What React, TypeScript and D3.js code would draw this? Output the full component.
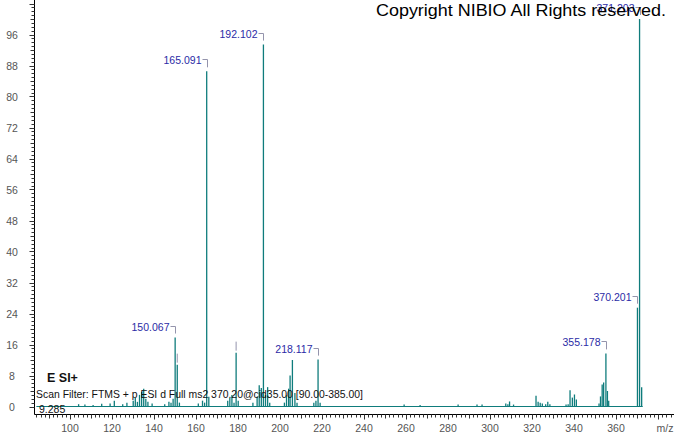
import React from "react";
import * as d3 from "d3";

const peakMz: number[] = [
  104.1, 107.1, 111.0, 115.1, 119.1, 121.1, 125.1, 127.1, 130.1, 131.1, 132.1, 133.1, 134.1, 135.1, 136.1, 137.1, 139.1,
  145.1, 147.1, 148.1, 149.1, 150.067, 151.07, 152.1, 161.1, 163.1, 164.1, 165.091, 166.1,
  175.1, 176.1, 177.1, 178.1, 179.1, 180.1, 187.1, 189.1, 190.1, 191.1, 192.102, 193.1, 194.1, 195.1,
  202.1, 203.1, 204.1, 204.8, 205.9, 207.1, 208.1, 216.1, 217.1, 218.117, 219.1,
  259.1, 266.7, 284.8, 293.8, 296.2, 307.5, 308.5, 309.3, 311.2,
  321.9, 322.9, 323.9, 324.9, 326.5, 327.5, 328.5, 336.2, 337.2, 338.1, 339.2, 340.2, 341.1,
  351.9, 352.6, 353.4, 354.1, 355.178, 355.9, 356.5, 370.201, 371.203, 372.2,
];
const peakIntensity: number[] = [
  0.6, 0.5, 0.4, 0.7, 0.8, 1.5, 0.6, 1.0, 1.5, 2.2, 1.2, 3.0, 3.8, 4.6, 2.0, 1.2, 0.8,
  0.6, 1.2, 1.0, 2.0, 17.8, 10.8, 1.0, 0.8, 1.5, 1.0, 86.5, 2.5,
  1.5, 2.2, 3.0, 1.0, 13.9, 1.5, 1.0, 2.5, 5.5, 4.8, 93.4, 3.0, 5.0, 1.0,
  1.0, 3.0, 4.6, 8.0, 12.0, 3.5, 1.0, 1.0, 1.5, 12.1, 1.0,
  0.5, 0.4, 0.5, 0.5, 0.5, 0.8, 0.6, 1.3, 0.5,
  2.8, 1.2, 1.0, 0.8, 0.6, 1.2, 0.6, 0.5, 0.6, 4.2, 2.3, 3.1, 1.8,
  0.8, 2.6, 5.7, 6.2, 13.7, 4.0, 1.5, 25.5, 100, 5.0,
];
const labelledMz: number[] = [150.067, 165.091, 192.102, 218.117, 355.178, 370.201, 371.203];
const labelText: string[] = ["150.067", "165.091", "192.102", "218.117", "355.178", "370.201", "371.203"];
const hiddenLeaderMz: number[] = [151.07, 179.1];
const xTickLabels: number[] = [100, 120, 140, 160, 180, 200, 220, 240, 260, 280, 300, 320, 340, 360];
const yTickLabels: number[] = [0, 8, 16, 24, 32, 40, 48, 56, 64, 72, 80, 88, 96];
const baselineRange: number[] = [84, 372.7];

const W = 674;
const H = 434;
const TEAL = "#0f7c7c";
const LABEL_BLUE = "#2b2ba6";
const LEADER = "#9494ac";
const AXIS_TXT = "#555";

export default function App() {
  const x = d3.scaleLinear().domain([82.86, 387.6]).range([34, 674]);
  const y = d3.scaleLinear().domain([0, 96]).range([406.5, 34.5]);
  const axisX = 34.5;
  const axisY = 414.5;

  const intensityOf = (mz: number) => peakIntensity[peakMz.indexOf(mz)];

  const xMinor = d3.range(84, 388, 2);
  const yMinor = d3.range(0, 105, 1);

  return (
    <svg width={W} height={H} style={{ position: "absolute", left: 0, top: 0, background: "#fff" }}
      fontFamily="'Liberation Sans', Arial, sans-serif">
      <rect x={0} y={0} width={W} height={H} fill="#fff" />
      {/* baseline */}
      <line x1={x(baselineRange[0])} x2={x(baselineRange[1])} y1={y(0)} y2={y(0)} stroke={TEAL} strokeWidth={1.2} />
      {/* sticks */}
      {peakMz.map((mz, i) => (
        <line key={i} x1={x(mz)} x2={x(mz)} y1={y(0)} y2={y(peakIntensity[i])} stroke={TEAL} strokeWidth={1.3} />
      ))}
      {/* hidden leaders */}
      {hiddenLeaderMz.map((mz, i) => {
        const t = y(intensityOf(mz));
        return <line key={i} x1={x(mz)} x2={x(mz)} y1={t - 11} y2={t - 2} stroke={LEADER} strokeWidth={1} />;
      })}
      {/* labels */}
      {labelledMz.map((mz, i) => {
        const px = Math.round(x(mz)) + 0.5;
        const t = y(intensityOf(mz));
        const by = Math.round(t - 12) + 0.5;
        return (
          <g key={i}>
            <path d={`M${px - 5},${by}H${px}V${t - 4}`} fill="none" stroke={LEADER} strokeWidth={1} />
            <text x={px - 6} y={by + 4} textAnchor="end" fontSize={10.5} fill={LABEL_BLUE}>{labelText[i]}</text>
          </g>
        );
      })}
      {/* axes */}
      <line x1={axisX} x2={axisX} y1={0} y2={axisY} stroke="#000" strokeWidth={1} />
      <line x1={axisX} x2={W} y1={axisY} y2={axisY} stroke="#000" strokeWidth={1} />
      {yMinor.map((v) => {
        const len = v % 8 === 0 ? 5 : v % 4 === 0 ? 4 : 3;
        const yy = Math.round(y(v)) + 0.5;
        return <line key={v} x1={axisX - len} x2={axisX} y1={yy} y2={yy} stroke="#333" strokeWidth={1} />;
      })}
      {yTickLabels.map((v) => (
        <text key={v} x={12} y={y(v) + 4} textAnchor="middle" fontSize={10.5} fill={AXIS_TXT}>{v}</text>
      ))}
      {xMinor.map((v) => {
        const len = v % 20 === 0 ? 5 : v % 10 === 0 ? 4 : 3;
        const xx = Math.round(x(v)) + 0.5;
        return <line key={v} x1={xx} x2={xx} y1={axisY} y2={axisY + len} stroke="#333" strokeWidth={1} />;
      })}
      {xTickLabels.map((v) => (
        <text key={v} x={x(v)} y={432} textAnchor="middle" fontSize={10.5} fill={AXIS_TXT}>{v}</text>
      ))}
      <text x={665} y={432} textAnchor="middle" fontSize={10.5} fill={AXIS_TXT}>m/z</text>
      {/* annotations */}
      <text x={47} y={382} fontSize={12.5} fontWeight="bold" fill="#111">E SI+</text>
      <text x={36} y={397.5} fontSize={10.5} fill="#111" textLength={327} lengthAdjust="spacingAndGlyphs">
        Scan Filter: FTMS + p ESI d Full ms2 370.20@cid35.00 [90.00-385.00]
      </text>
      <text x={39} y={412.5} fontSize={10.5} fill="#111">9.285</text>
      <text x={376} y={16} fontSize={16} fill="#000" textLength={290} lengthAdjust="spacingAndGlyphs">
        Copyright NIBIO All Rights reserved.
      </text>
    </svg>
  );
}
